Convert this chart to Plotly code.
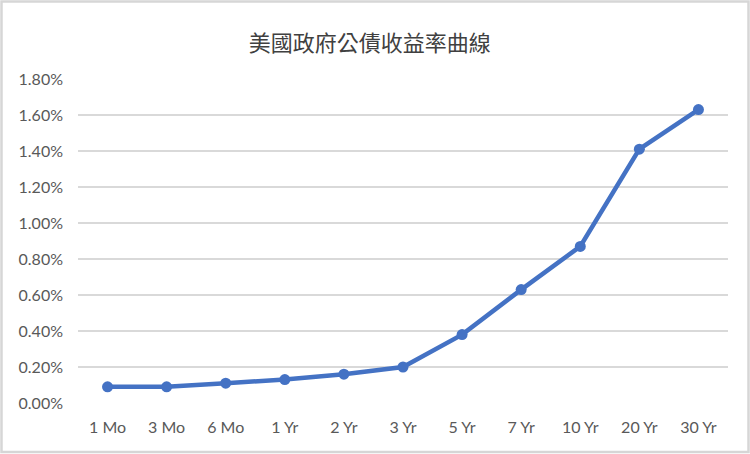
import plotly.graph_objects as go

# Treasury yield curve data (percent)
maturities = ['1 Mo', '3 Mo', '6 Mo', '1 Yr', '2 Yr', '3 Yr', '5 Yr', '7 Yr', '10 Yr', '20 Yr', '30 Yr']
yields = [0.09, 0.09, 0.11, 0.13, 0.16, 0.20, 0.38, 0.63, 0.87, 1.41, 1.63]
y_ticks = [0.0, 0.2, 0.4, 0.6, 0.8, 1.0, 1.2, 1.4, 1.6, 1.8]
y_tick_labels = [f'{v:.2f}%' for v in y_ticks]

blue = '#4472C4'
grey_text = '#595959'

fig = go.Figure()
fig.add_trace(go.Scatter(x=maturities, y=yields, mode='lines+markers',
                         line=dict(color=blue, width=4.5),
                         marker=dict(size=11, color=blue),
                         showlegend=False))

# plot area is 650 x 324 px, used to place the outer frame
pw, ph = 650, 324
ml, mt, mb, mr = 78, 79, 51, 22

fig.update_layout(
    width=750, height=454,
    margin=dict(l=ml, r=mr, t=mt, b=mb),
    paper_bgcolor='white', plot_bgcolor='white',
    title=dict(text='美國政府公債收益率曲線', x=0.493, xanchor='center', y=1 - 43 / 454, yanchor='middle',
               font=dict(family='Noto Sans CJK TC', size=22, color='#404040')),
    font=dict(family='Lato', size=16, color=grey_text),
    shapes=[dict(type='rect', xref='paper', yref='paper',
                 x0=-(ml - 1.5) / pw, x1=(pw + mr - 1.5) / pw,
                 y0=-(mb - 2) / ph, y1=(ph + mt - 1.5) / ph,
                 line=dict(color='#d6d6d6', width=2.5), layer='below')],
)

# half a category of padding on each side, like an Excel category axis
fig.update_xaxes(type='category', range=[-0.5, len(maturities) - 0.5],
                 showgrid=False, zeroline=False, showline=False, automargin=False,
                 ticks='', ticklabelstandoff=13, tickfont=dict(size=16, color=grey_text))
fig.update_yaxes(range=[0, 1.8], tickvals=y_ticks, ticktext=y_tick_labels, automargin=False,
                 showgrid=True, gridcolor='#d9d9d9', gridwidth=2, zeroline=False,
                 showline=False, ticks='', ticklabelstandoff=14,
                 tickfont=dict(size=16, color=grey_text))

# page has a default 8px body margin; drop it so the chart fills the window
fig.write_html('out.html', config={'displayModeBar': False},
               post_script="document.body.style.margin='0';")
